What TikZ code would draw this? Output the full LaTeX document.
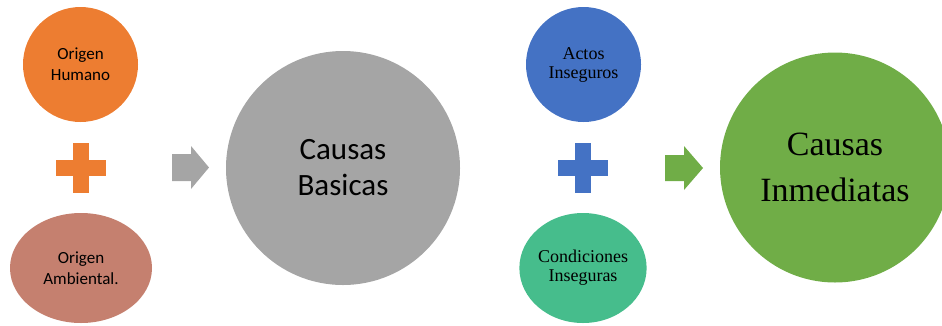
\documentclass[tikz,border=0pt]{standalone}
\usepackage{fontspec}
\setmainfont{Liberation Serif}
\newfontfamily\calib{Carlito}
\newfontfamily\camb{Liberation Serif}
\usetikzlibrary{shapes.geometric}
\definecolor{corange}{HTML}{ED7D31}
\definecolor{crose}{RGB}{197,128,111}
\definecolor{cgray}{HTML}{A5A5A5}
\definecolor{cblue}{HTML}{4472C4}
\definecolor{cteal}{RGB}{70,189,140}
\definecolor{cgreen}{HTML}{70AD47}
\tikzset{
  blob/.style={ellipse, inner sep=0pt, align=center, text=black},
  small/.style={font=\calib\fontsize{17}{21}\selectfont},
  smallserif/.style={font=\camb\fontsize{18}{19}\selectfont},
  big/.style={font=\calib\fontsize{31}{36}\selectfont},
  bigserif/.style={font=\camb\fontsize{34}{46}\selectfont},
}
\begin{document}
\begin{tikzpicture}[x=1pt,y=-1pt]
\useasboundingbox (0,0) rectangle (942,325);
\clip (0,0) rectangle (942,325);
% circles
\node[blob, fill=corange, minimum width=115pt, minimum height=115pt, small] (oh) at (80.5,64.5) {Origen\\Humano};
\node[blob, fill=crose, minimum width=142pt, minimum height=110pt, small] (oa) at (81,268) {Origen\\Ambiental.};
\node[blob, fill=cgray, minimum width=234pt, minimum height=234pt, big] (cb) at (343,168) {Causas\\Basicas};
\node[blob, fill=cblue, minimum width=115pt, minimum height=115pt, smallserif] (ai) at (583.5,64.5) {Actos\\Inseguros};
\node[blob, fill=cteal, minimum width=126pt, minimum height=110pt, smallserif] (ci) at (583,268) {Condiciones\\Inseguras};
\node[blob, fill=cgreen, minimum width=230pt, minimum height=230pt, bigserif] (cn) at (835,167.5) {Causas\\Inmediatas};
% plus signs
\fill[corange] (73,143) rectangle (89,193);
\fill[corange] (56,160) rectangle (106,176);
\fill[cblue] (575,143) rectangle (591,193);
\fill[cblue] (558,160) rectangle (608,176);
% block arrows
\fill[cgray] (172,154) -- (191,154) -- (191,146) -- (209,167.5) -- (191,189) -- (191,181) -- (172,181) -- cycle;
\fill[cgreen] (665,155) -- (684,155) -- (684,146) -- (703,168) -- (684,190) -- (684,181) -- (665,181) -- cycle;
\end{tikzpicture}
\end{document}
